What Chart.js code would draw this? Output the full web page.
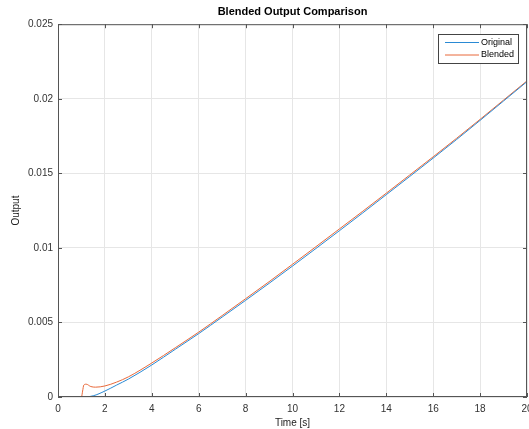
<!DOCTYPE html>
<html>
<head>
<meta charset="utf-8">
<script src="https://cdn.jsdelivr.net/npm/chart.js@4/dist/chart.umd.min.js"></script>
<style>
  html, body { margin: 0; padding: 0; background: #fff; }
  #wrap { width: 529px; height: 429px; }
</style>
</head>
<body>
<div id="wrap"><canvas id="chart" width="529" height="429"></canvas></div>
<script>
// valores
const origTime = [0, 1, 1.5, 2, 2.5, 3, 4, 5, 6, 7, 8, 9, 10, 11, 12, 13, 14, 15, 16, 17, 18, 19, 20];
const origValues = [0, 0, 0.00008, 0.0004, 0.0008, 0.0012, 0.00215, 0.0032, 0.00425, 0.00536, 0.00648, 0.00762,
    0.00878, 0.00996, 0.01115, 0.01235, 0.01357, 0.01479, 0.01602, 0.01727, 0.01855, 0.01985, 0.02115];

const blendTime = [0, 1, 1.05, 1.1, 1.2, 1.4, 1.6, 2, 2.5, 3, 4, 5, 6, 7, 8, 9, 10, 11, 12, 13, 14, 15, 16, 17, 18, 19, 20];
const blendValues = [0, 0, 0.0004, 0.0008, 0.00086, 0.0007, 0.00066, 0.00074, 0.001, 0.00135, 0.00228, 0.0033,
    0.00435, 0.00546, 0.00659, 0.00773, 0.0089, 0.01008, 0.01127, 0.01246, 0.01367, 0.01489, 0.01611,
    0.01735, 0.01862, 0.01991, 0.0212];

const xTicks = [0, 2, 4, 6, 8, 10, 12, 14, 16, 18, 20];
const yTicks = [0, 0.005, 0.01, 0.015, 0.02, 0.025];
const yTickLabels = ['0', '0.005', '0.01', '0.015', '0.02', '0.025'];

const FONT = 'Helvetica, Arial, "Liberation Sans", sans-serif';
const AXIS = '#555555';

const toPoints = (t, v) => t.map((x, i) => ({ x: x, y: v[i] }));

// caixa estilo MATLAB com marcas para dentro + legenda
const boxPlugin = {
    id: 'box',
    afterDraw(chart) {
        const ctx = chart.ctx;
        const a = chart.chartArea;
        const xs = chart.scales.x, ys = chart.scales.y;
        ctx.save();
        ctx.strokeStyle = AXIS;
        ctx.lineWidth = 1;
        ctx.strokeRect(a.left + 0.5, a.top + 0.5, a.right - a.left - 1, a.bottom - a.top - 1);
        ctx.beginPath();
        xTicks.forEach(v => {
            const p = Math.round(xs.getPixelForValue(v)) + 0.5;
            ctx.moveTo(p, a.bottom); ctx.lineTo(p, a.bottom - 4);
            ctx.moveTo(p, a.top); ctx.lineTo(p, a.top + 4);
        });
        yTicks.forEach(v => {
            const p = Math.round(ys.getPixelForValue(v)) + 0.5;
            ctx.moveTo(a.left, p); ctx.lineTo(a.left + 4, p);
            ctx.moveTo(a.right, p); ctx.lineTo(a.right - 4, p);
        });
        ctx.stroke();

        // legenda
        const lx = 438, ly = 34, lw = 80, lh = 29;
        ctx.fillStyle = '#fff';
        ctx.fillRect(lx, ly, lw, lh);
        ctx.strokeStyle = '#444';
        ctx.strokeRect(lx + 0.5, ly + 0.5, lw, lh);
        ctx.font = '9px ' + FONT;
        ctx.textBaseline = 'middle';
        chart.data.datasets.forEach((ds, i) => {
            const y = ly + 8 + i * 12.5;
            ctx.strokeStyle = ds.borderColor;
            ctx.beginPath();
            ctx.moveTo(lx + 7, y + 0.5); ctx.lineTo(lx + 41, y + 0.5);
            ctx.stroke();
            ctx.fillStyle = '#000';
            ctx.fillText(ds.label, lx + 43, y + 0.5);
        });
        ctx.restore();
    }
};

new Chart(document.getElementById('chart'), {
    type: 'line',
    data: {
        datasets: [
            {
                label: 'Original',
                data: toPoints(origTime, origValues),
                borderColor: '#2a8ad4',
                borderWidth: 1,
                pointRadius: 0,
                cubicInterpolationMode: 'monotone',
                fill: false
            },
            {
                label: 'Blended',
                data: toPoints(blendTime, blendValues),
                borderColor: '#e8693a',
                borderWidth: 1,
                pointRadius: 0,
                cubicInterpolationMode: 'monotone',
                fill: false
            }
        ]
    },
    plugins: [boxPlugin],
    options: {
        responsive: false,
        animation: false,
        layout: { padding: { left: 0, right: 2, top: 0, bottom: 0 } },
        plugins: {
            legend: { display: false },
            tooltip: { enabled: false },
            title: {
                display: true,
                fullSize: false,
                text: 'Blended Output Comparison',
                color: '#000',
                font: { family: FONT, size: 11, weight: 'bold' },
                padding: { top: 5, bottom: 6 }
            }
        },
        scales: {
            x: {
                type: 'linear',
                min: 0,
                max: 20,
                afterBuildTicks: s => { s.ticks = xTicks.map(v => ({ value: v })); },
                afterFit: s => { s.height = 32; s.paddingLeft = 0; s.paddingRight = 0; },
                grid: { color: '#e6e6e6', drawTicks: false },
                border: { display: false },
                ticks: {
                    color: '#333',
                    font: { family: FONT, size: 10 },
                    padding: 6,
                    maxRotation: 0,
                    autoSkip: false
                },
                title: {
                    display: true,
                    text: 'Time [s]',
                    color: '#222',
                    font: { family: FONT, size: 10 },
                    padding: { top: 0, bottom: 0 }
                }
            },
            y: {
                type: 'linear',
                min: 0,
                max: 0.025,
                afterBuildTicks: s => { s.ticks = yTicks.map(v => ({ value: v })); },
                afterFit: s => { s.width = 58; s.paddingTop = 0; s.paddingBottom = 0; },
                grid: { color: '#e6e6e6', drawTicks: false },
                border: { display: false },
                ticks: {
                    color: '#333',
                    font: { family: FONT, size: 10 },
                    padding: 5,
                    autoSkip: false,
                    callback: (v) => {
                        const i = yTicks.findIndex(t => Math.abs(t - v) < 1e-9);
                        return i >= 0 ? yTickLabels[i] : '';
                    }
                },
                title: {
                    display: true,
                    text: 'Output',
                    color: '#222',
                    font: { family: FONT, size: 10 },
                    padding: { top: 10, bottom: 4 }
                }
            }
        }
    }
});
</script>
</body>
</html>
